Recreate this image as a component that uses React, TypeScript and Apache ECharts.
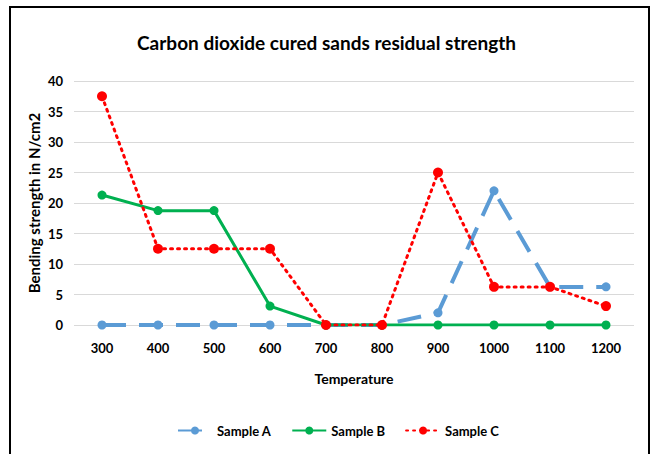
import React, { useEffect, useRef } from "react";
import * as echarts from "echarts";

const temperatures = ["300", "400", "500", "600", "700", "800", "900", "1000", "1100", "1200"];
const sampleA = [0, 0, 0, 0, 0, 0, 2, 22, 6.25, 6.25];
const sampleB = [21.3, 18.75, 18.75, 3.1, 0, 0, 0, 0, 0, 0];
const sampleC = [37.5, 12.5, 12.5, 12.5, 0, 0, 25, 6.25, 6.25, 3.1];

const FONT = "Lato";

export default function App() {
  const ref = useRef<HTMLDivElement>(null);
  useEffect(() => {
    const chart = echarts.init(ref.current!, null, { renderer: "svg" });
    chart.setOption({
      animation: false,
      backgroundColor: "#ffffff",
      title: {
        text: "Carbon dioxide cured sands residual strength",
        left: "center",
        top: 28,
        textStyle: { fontFamily: FONT, fontSize: 19, fontWeight: "bold", color: "#000" },
      },
      grid: { left: 74, right: 19, top: 81, bottom: 129 },
      xAxis: {
        type: "category",
        data: temperatures,
        boundaryGap: true,
        name: "Temperature",
        nameLocation: "middle",
        nameGap: 46,
        nameTextStyle: { fontFamily: FONT, fontSize: 14, fontWeight: "bold", color: "#000" },
        axisLine: { show: false },
        axisTick: { show: false },
        axisLabel: { fontFamily: FONT, fontSize: 13, fontWeight: "bold", color: "#000", margin: 16 },
      },
      yAxis: {
        type: "value",
        min: 0,
        max: 40,
        interval: 5,
        name: "Bending strength in N/cm2",
        nameLocation: "middle",
        nameGap: 33,
        nameMoveOverlap: false,
        nameTextStyle: { fontFamily: FONT, fontSize: 15, fontWeight: "bold", color: "#000" },
        axisLine: { show: false },
        axisTick: { show: false },
        axisLabel: { fontFamily: FONT, fontSize: 13, fontWeight: "bold", color: "#000", margin: 11 },
        splitLine: { lineStyle: { color: "#d9d9d9", width: 1 } },
      },
      legend: {
        bottom: 12,
        left: 172,
        itemWidth: 34,
        itemHeight: 10,
        itemGap: 20,
        textStyle: { fontFamily: FONT, fontSize: 13, fontWeight: "bold", color: "#000" },
        data: ["Sample A", "Sample B", "Sample C"],
      },
      series: [
        {
          name: "Sample A",
          type: "line",
          data: sampleA,
          symbol: "circle",
          symbolSize: 9,
          itemStyle: { color: "#5B9BD5" },
          lineStyle: { color: "#5B9BD5", width: 4, type: [24, 13] },
          z: 2,
        },
        {
          name: "Sample B",
          type: "line",
          data: sampleB,
          symbol: "circle",
          symbolSize: 9,
          itemStyle: { color: "#00B050" },
          lineStyle: { color: "#00B050", width: 3, type: "solid" },
          z: 3,
        },
        {
          name: "Sample C",
          type: "line",
          data: sampleC,
          symbol: "circle",
          symbolSize: 10,
          itemStyle: { color: "#FF0000" },
          lineStyle: { color: "#FF0000", width: 3, type: [2, 5], cap: "round" },
          z: 4,
        },
      ],
      graphic: [
        {
          type: "polyline",
          shape: { points: [[10, 460], [10, 7], [649, 7], [649, 460]] },
          style: { stroke: "#000", lineWidth: 2, fill: "none" },
          silent: true,
        },
      ],
    });
    return () => chart.dispose();
  }, []);
  return (
    <div
      ref={ref}
      style={{ position: "fixed", left: 0, top: 0, width: 653, height: 454 }}
    />
  );
}
